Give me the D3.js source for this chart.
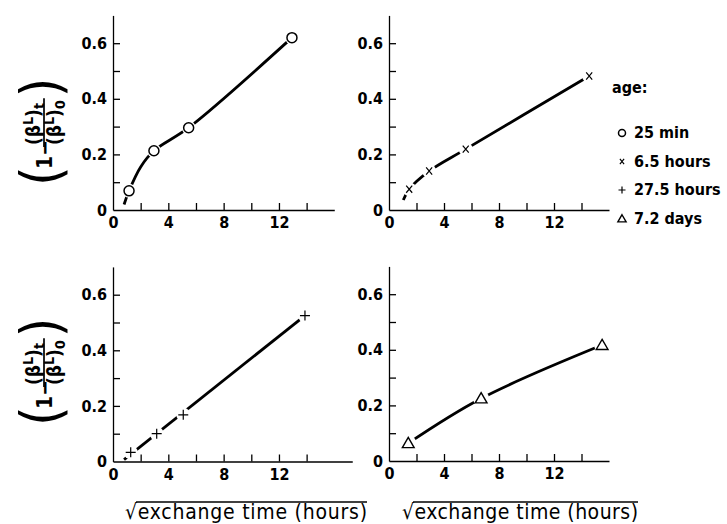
<!DOCTYPE html>
<html>
<head>
<meta charset="utf-8">
<script src="https://cdn.jsdelivr.net/npm/d3@7"></script>
<style>
  body { margin: 0; background: #fff; }
  svg { display: block; }
  text { font-family: 'DejaVu Sans Condensed', 'DejaVu Sans', sans-serif; font-stretch: condensed; fill: #000; }
  .tick text { font-size: 16px; font-weight: bold; }
  .domain, .tick line { stroke: #000; stroke-width: 1.3; }
</style>
</head>
<body>
<script>
// data
var ageLabels = ['25 min', '6.5 hours', '27.5 hours', '7.2 days'];
var xTickLabels = [0, 4, 8, 12];
var yTickLabels = [0, 0.2, 0.4, 0.6];
var xTickMarks = [2, 4, 6, 8, 10, 12, 14];
var yTickMarks = [0.1, 0.2, 0.3, 0.4, 0.5, 0.6];

// 25 min (circles)
var min25X = [1.16, 2.96, 5.47, 12.94];
var min25Y = [0.069, 0.213, 0.296, 0.62];
var min25FitX = [0.8, 1.16, 2.0, 2.96, 5.47, 12.94];
var min25FitY = [0.02, 0.069, 0.155, 0.213, 0.296, 0.62];

// 6.5 hours (crosses)
var h65X = [1.47, 2.92, 5.58, 14.56];
var h65Y = [0.075, 0.14, 0.219, 0.482];
var h65FitX = [1.04, 1.47, 2.92, 5.58, 14.56];
var h65FitY = [0.036, 0.075, 0.14, 0.219, 0.482];

// 27.5 hours (plus)
var h275X = [1.28, 3.16, 5.08, 13.88];
var h275Y = [0.033, 0.10, 0.168, 0.525];
var h275FitX = [0.8, 13.88];
var h275FitY = [0.007, 0.525];

// 7.2 days (triangles)
var d72X = [1.4, 6.7, 15.5];
var d72Y = [0.064, 0.225, 0.417];
var d72FitX = [1.4, 6.7, 15.5];
var d72FitY = [0.064, 0.225, 0.417];

var svgWidth = 727;
var svgHeight = 524;

var svg = d3.select('body').append('svg')
    .attr('width', svgWidth)
    .attr('height', svgHeight);

// panel layout
var panels = [
    { left: 113, bottom: 210, xMax: 16, kx: 13.83, ky: 278, marker: 'circle', xs: min25X, ys: min25Y, fx: min25FitX, fy: min25FitY },
    { left: 389, bottom: 210, xMax: 16, kx: 13.75, ky: 278, marker: 'cross', xs: h65X, ys: h65Y, fx: h65FitX, fy: h65FitY },
    { left: 113, bottom: 461.5, xMax: 17.3, kx: 13.83, ky: 278, marker: 'plus', xs: h275X, ys: h275Y, fx: h275FitX, fy: h275FitY },
    { left: 389, bottom: 461, xMax: 16, kx: 13.75, ky: 278, marker: 'triangle', xs: d72X, ys: d72Y, fx: d72FitX, fy: d72FitY }
];

function drawMarker(g, type, cx, cy, s) {
    var m = g.append('g').attr('transform', `translate(${cx}, ${cy})`);
    if (type === 'circle') {
        m.append('circle').attr('r', 5 * s).attr('fill', '#fff').attr('stroke', '#000').attr('stroke-width', 1.5);
    } else if (type === 'cross') {
        var a = 3 * s;
        m.append('path').attr('d', `M${-a},${-a * 1.2}L${a},${a * 1.2}M${a},${-a * 1.2}L${-a},${a * 1.2}`)
            .attr('stroke', '#000').attr('stroke-width', 1.2);
    } else if (type === 'plus') {
        var b = 5 * s;
        m.append('path').attr('d', `M${-b},0L${b},0M0,${-b}L0,${b}`)
            .attr('stroke', '#000').attr('stroke-width', 1.2);
    } else {
        m.append('path').attr('d', d3.symbol(d3.symbolTriangle, 60 * s * s)())
            .attr('transform', 'translate(0,1)')
            .attr('fill', '#fff').attr('stroke', '#000').attr('stroke-width', 1.4);
    }
}

panels.forEach(function(p) {
    var x = d3.scaleLinear().domain([0, p.xMax]).range([p.left, p.left + p.xMax * p.kx]);
    var y = d3.scaleLinear().domain([0, 0.7]).range([p.bottom, p.bottom - 0.7 * p.ky]);

    // x axis
    svg.append('g')
        .attr('transform', `translate(0, ${p.bottom})`)
        .call(d3.axisBottom(x)
            .tickValues(xTickMarks)
            .tickSizeInner(-7)
            .tickSizeOuter(0)
            .tickFormat(''));
    svg.append('g')
        .attr('transform', `translate(0, ${p.bottom})`)
        .call(d3.axisBottom(x)
            .tickValues(xTickLabels)
            .tickSize(0)
            .tickPadding(7)
            .tickFormat(d3.format('d')))
        .call(g => g.select('.domain').remove());

    // y axis
    svg.append('g')
        .attr('transform', `translate(${p.left}, 0)`)
        .call(d3.axisLeft(y)
            .tickValues(yTickMarks)
            .tickSizeInner(-7)
            .tickSizeOuter(0)
            .tickFormat(''));
    svg.append('g')
        .attr('transform', `translate(${p.left}, 0)`)
        .call(d3.axisLeft(y)
            .tickValues(yTickLabels)
            .tickSize(0)
            .tickPadding(6)
            .tickFormat(d => d === 0 ? '0' : d3.format('.1f')(d)))
        .call(g => g.select('.domain').remove());

    // fitted curve
    var fit = p.fx.map((v, i) => [v, p.fy[i]]);
    svg.append('path')
        .datum(fit)
        .attr('fill', 'none')
        .attr('stroke', '#000')
        .attr('stroke-width', 2.8)
        .attr('d', d3.line()
            .x(d => x(d[0]))
            .y(d => y(d[1]))
            .curve(d3.curveCatmullRom.alpha(0.5)));

    // white gap round each point, then the marker
    var pts = p.xs.map((v, i) => [v, p.ys[i]]);
    svg.selectAll(null)
        .data(pts)
        .enter()
        .append('circle')
        .attr('cx', d => x(d[0]))
        .attr('cy', d => y(d[1]))
        .attr('r', p.marker === 'triangle' ? 8 : 7)
        .attr('fill', '#fff');
    pts.forEach(function(d) {
        drawMarker(svg, p.marker, x(d[0]), y(d[1]), 1);
    });
});

// y axis title (rotated fraction)
function yTitle(cx, cy) {
    var g = svg.append('g')
        .attr('transform', `translate(${cx}, ${cy}) rotate(-90)`)
        .attr('font-weight', 'bold');

    g.append('text').attr('x', -62).attr('y', 16).attr('font-size', 56).attr('font-weight', 'normal').text('(');
    g.append('text').attr('x', -45).attr('y', 8).attr('font-size', 21).text('1−');

    var num = g.append('text').attr('x', -21).attr('y', -4).attr('font-size', 19);
    num.append('tspan').text('(β');
    num.append('tspan').attr('dy', -7).attr('font-size', 14).text('L');
    num.append('tspan').attr('dy', 7).text(')');
    num.append('tspan').attr('dy', 4).attr('font-size', 14).text('t');

    var den = g.append('text').attr('x', -21).attr('y', 17).attr('font-size', 19);
    den.append('tspan').text('(β');
    den.append('tspan').attr('dy', -7).attr('font-size', 14).text('L');
    den.append('tspan').attr('dy', 7).text(')');
    den.append('tspan').attr('dy', 4).attr('font-size', 14).text('0');

    var w = Math.max(num.node().getComputedTextLength(), den.node().getComputedTextLength());
    g.append('line')
        .attr('x1', -23).attr('x2', -21 + w + 2)
        .attr('y1', 0).attr('y2', 0)
        .attr('stroke', '#000').attr('stroke-width', 1.7);
    g.append('text').attr('x', -21 + w + 3).attr('y', 16).attr('font-size', 56).attr('font-weight', 'normal').text(')');
}
yTitle(44, 124);
yTitle(44, 364);

// x axis titles with a radical
function xTitle(x0, width) {
    var t = svg.append('text')
        .attr('x', x0)
        .attr('y', 519)
        .attr('font-size', 21)
        .attr('textLength', width)
        .attr('lengthAdjust', 'spacing')
        .text('√exchange  time (hours)');
    var vw = t.node().getExtentOfChar(0).width;
    svg.append('line')
        .attr('x1', x0 + vw - 1).attr('x2', x0 + width)
        .attr('y1', 502).attr('y2', 502)
        .attr('stroke', '#000').attr('stroke-width', 1.4);
}
xTitle(125, 242);
xTitle(402, 236);

// legend
var legend = svg.append('g').attr('font-weight', 'bold');
legend.append('text').attr('x', 612).attr('y', 93).attr('font-size', 16).text('age:');
var markerTypes = ['circle', 'cross', 'plus', 'triangle'];
ageLabels.forEach(function(label, i) {
    var yy = 138 + i * 28.5;
    drawMarker(legend, markerTypes[i], 622, yy - 5, 0.7);
    legend.append('text').attr('x', 634).attr('y', yy).attr('font-size', 16).text(label);
});
</script>
</body>
</html>
